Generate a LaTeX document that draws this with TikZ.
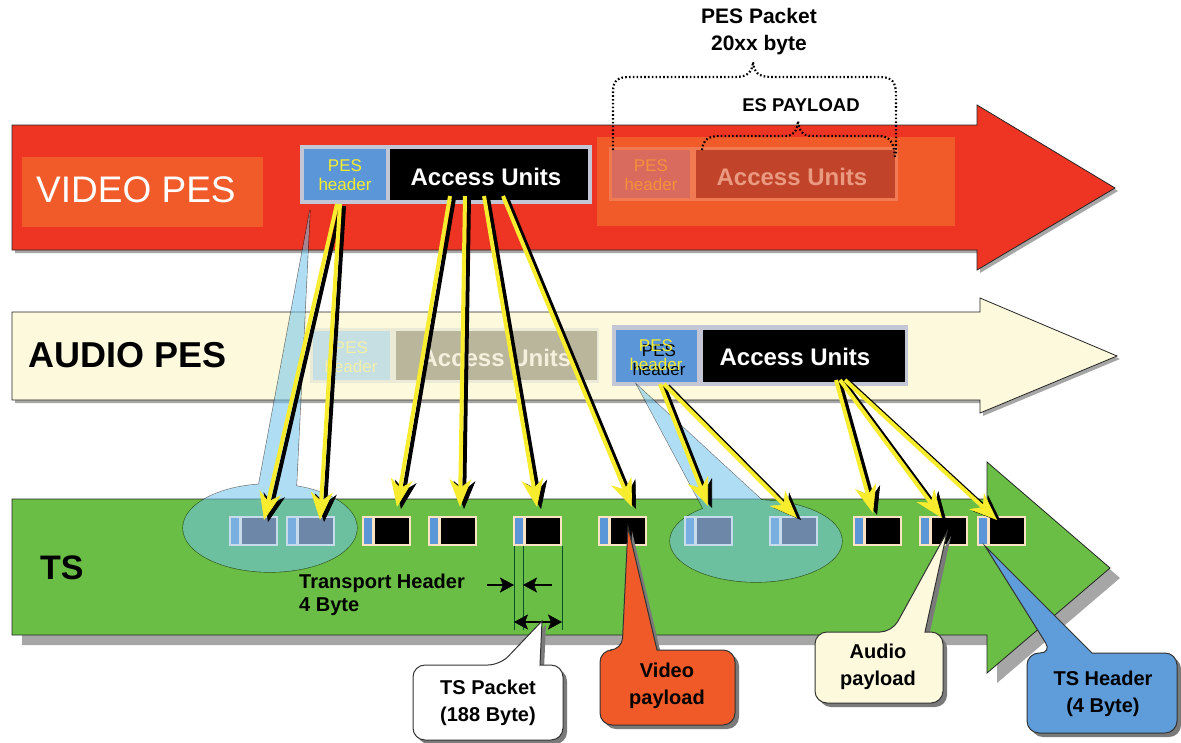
\documentclass[tikz,border=0pt]{standalone}
\usepackage{fontspec}
\setmainfont{Liberation Sans}
\usetikzlibrary{arrows.meta}
\definecolor{vred}{HTML}{EE3524}
\definecolor{vorange}{HTML}{F15A29}
\definecolor{acream}{HTML}{FCF9DC}
\definecolor{tsgreen}{HTML}{6ABD45}
\definecolor{hblue}{HTML}{5B97D8}
\definecolor{yel}{HTML}{F7EC2E}
\definecolor{lgray}{HTML}{C3C6D4}
\definecolor{lblue}{HTML}{6EC3EB}
\definecolor{shade}{HTML}{A6A6A6}
\definecolor{cshade}{HTML}{7A7A7A}
\definecolor{dgreen}{HTML}{0B4F2A}
\definecolor{pcream}{HTML}{FBE3C4}
\definecolor{fborder}{HTML}{C6DCEB}
\definecolor{fstrip}{HTML}{78AEE0}
\definecolor{fbody}{HTML}{6C87A8}
\definecolor{vidpay}{HTML}{F05A28}
\definecolor{tshead}{HTML}{5E9DDA}
\definecolor{fvborder}{HTML}{F27A52}
\definecolor{fvhead}{HTML}{D96A5E}
\definecolor{fvau}{HTML}{C1432A}
\definecolor{fvheadtxt}{HTML}{F5913A}
\definecolor{fvautxt}{HTML}{E99A80}
\definecolor{faborder}{HTML}{EAEAD6}
\definecolor{fahead}{HTML}{C5DFE3}
\definecolor{faau}{HTML}{B9B69C}
\definecolor{faheadtxt}{HTML}{F3F0A8}
\definecolor{faautxt}{HTML}{F5F0DC}
\newcommand\tspacket[2]{%
  \fill[pcream] (#2,516) rectangle ++(49,30);
  \fill[hblue] (#2+2,518) rectangle ++(8,26);
  \fill[black] (#2+13,518) rectangle ++(34,26);}
\newcommand\tsfaded[2]{%
  \fill[fborder] (#2,516) rectangle ++(49,30);
  \fill[fstrip] (#2+2,518) rectangle ++(8,26);
  \fill[fbody] (#2+13,518) rectangle ++(34,26);}
\newcommand\fatarrow[2]{%
  \draw[karrow,transform canvas={xshift=4pt,yshift=-2pt}] (#1) -- (#2);
  \draw[yarrow] (#1) -- (#2);}
\begin{document}
\begin{tikzpicture}[x=1pt,y=-1pt,
  bigarrow/.style={draw=black!85, line width=0.8pt,
    preaction={fill=shade, transform canvas={xshift=3pt,yshift=-3pt}}},
  tsarrow/.style={draw=black!85, line width=0.8pt,
    preaction={fill=shade, transform canvas={xshift=10pt,yshift=-10pt}}},
  callout/.style={draw=black!80, line width=1pt,
    preaction={fill=cshade, transform canvas={xshift=4pt,yshift=-4pt}}},
  txt/.style={inner sep=0pt, align=center},
  brace/.style={draw=black, line width=2.2pt, dash pattern=on 1.6pt off 2.2pt},
  yarrow/.style={draw=yel, line width=4pt,
    -{Stealth[length=28pt,width=22pt,inset=9pt,line width=0.6pt]}},
  karrow/.style={yarrow, draw=black},
  dimline/.style={draw=dgreen, line width=0.9pt},
  dimarrow/.style={draw=black, line width=2.5pt,
    -{Stealth[length=14pt,width=15pt,inset=3pt,line width=0.5pt]}},
  dimdouble/.style={draw=black, line width=2.5pt,
    {Stealth[length=14pt,width=15pt,inset=3pt,line width=0.5pt]}-{Stealth[length=14pt,width=15pt,inset=3pt,line width=0.5pt]}},
  ]
\useasboundingbox (0,0) rectangle (1181,742);
\fill[white] (0,0) rectangle (1181,742);

% ---------- big arrows ----------
\path[bigarrow, fill=vred] (12,125) -- (977,125) -- (977,105) -- (1115,188) -- (977,270) -- (977,250) -- (12,250) -- cycle;
\path[bigarrow, fill=acream] (12,312) -- (980,312) -- (980,298) -- (1117,356) -- (980,413) -- (980,400) -- (12,400) -- cycle;
\path[tsarrow, fill=tsgreen] (12,499) -- (987,499) -- (987,462) -- (1110,568) -- (987,673) -- (987,635) -- (12,635) -- cycle;

% ---------- VIDEO PES ----------
\fill[vorange] (22,157) rectangle (263,227);
\node[txt, text=white, font=\fontsize{37}{42}\selectfont, anchor=west] (vlabel) at (36,190) {VIDEO PES};

\fill[lgray] (300,145) rectangle (592,204);
\fill[hblue] (304,149) rectangle (386,200);
\fill[black] (390,149) rectangle (588,200);
\node[txt, text=yel, font=\fontsize{17}{19}\selectfont] (vhead) at (345,175) {PES\\header};
\node[txt, text=white, font=\bfseries\fontsize{24}{27}\selectfont] (vau) at (486,177) {Access Units};

% faded second video PES
\fill[vorange] (597,137) rectangle (955,226);
\fill[fvborder] (609,147) rectangle (898,201);
\fill[fvhead] (612,150) rectangle (690,198);
\fill[fvau] (696,150) rectangle (895,198);
\node[txt, text=fvheadtxt, font=\fontsize{17}{19}\selectfont] (vhead2) at (651,175) {PES\\header};
\node[txt, text=fvautxt, font=\bfseries\fontsize{24}{27}\selectfont] (vau2) at (792,177) {Access Units};

% braces
\draw[brace] (613,150) -- (613,92) .. controls (613,80) and (618,77) .. (630,77) -- (735,77) .. controls (748,77) and (752,72) .. (753,62) .. controls (754,72) and (758,77) .. (771,77) -- (880,77) .. controls (892,77) and (896,82) .. (896,95) -- (896,155);
\draw[brace] (702,150) .. controls (703,140) and (708,136) .. (720,136) -- (785,136) .. controls (795,136) and (797,130) .. (798,121) .. controls (799,130) and (802,136) .. (812,136) -- (878,136) .. controls (890,136) and (894,142) .. (895,158);
\node[txt, font=\bfseries\fontsize{21}{27}\selectfont] (pespkt) at (759,32) {PES Packet\\20xx byte};
\node[txt, font=\bfseries\fontsize{18.5}{20}\selectfont] (espay) at (801,105) {ES PAYLOAD};

% ---------- AUDIO PES ----------
\node[txt, font=\bfseries\fontsize{36}{40}\selectfont, anchor=west] (alabel) at (28,355) {AUDIO PES};
\fill[faborder] (310,328) rectangle (599,383);
\fill[fahead] (313,331) rectangle (390,380);
\fill[faau] (396,331) rectangle (597,380);
\node[txt, text=faheadtxt, font=\fontsize{17}{19}\selectfont] (ahead1) at (351,357) {PES\\header};
\node[txt, text=faautxt, font=\bfseries\fontsize{24}{27}\selectfont] (aau1) at (496,358) {Access Units};

\fill[lgray] (612,325) rectangle (908,386);
\fill[hblue] (616,330) rectangle (697,382);
\fill[black] (703,330) rectangle (905,382);
\node[txt, text=black, font=\fontsize{17}{19}\selectfont] (ahead2s) at (659,360) {PES\\header};
\node[txt, text=yel, font=\fontsize{17}{19}\selectfont] (ahead2) at (656,355) {PES\\header};
\node[txt, text=white, font=\bfseries\fontsize{24}{27}\selectfont] (aau2) at (795,357) {Access Units};

% ---------- TS ----------
\node[txt, font=\bfseries\fontsize{34}{40}\selectfont, anchor=west] (tslabel) at (40,568) {TS};

\tspacket{p3}{362}
\tspacket{p4}{428}
\tspacket{p5}{513}
\tspacket{p6}{598}
\tspacket{p9}{853}
\tspacket{p10}{919}
\tspacket{p11}{977}

% ellipses with callout wedges
\begin{scope}[transparency group, opacity=0.55]
  \filldraw[fill=lblue, draw=black, line width=1.2pt] (270,528) ellipse [x radius=87pt, y radius=44pt];
  \filldraw[fill=lblue, draw=black, line width=1.2pt] (310,210) -- (257,494) -- (296,494) -- cycle;
  \fill[lblue] (270,528) ellipse [x radius=87pt, y radius=44pt];
  \fill[lblue] (310,210) -- (257,494) -- (296,494) -- cycle;
\end{scope}
\begin{scope}[transparency group, opacity=0.55]
  \filldraw[fill=lblue, draw=black, line width=1.2pt] (756,541) ellipse [x radius=86pt, y radius=41pt];
  \filldraw[fill=lblue, draw=black, line width=1.2pt] (637,385) -- (705,512) -- (765,503) -- cycle;
  \fill[lblue] (756,541) ellipse [x radius=86pt, y radius=41pt];
  \fill[lblue] (637,385) -- (705,512) -- (765,503) -- cycle;
\end{scope}

\tsfaded{p1}{229}
\tsfaded{p2}{286}
\tsfaded{p7}{684}
\tsfaded{p8}{769}

% dimension lines
\coordinate (da) at (514,546);
\coordinate (db) at (523,546);
\coordinate (dc) at (562,546);
\coordinate (da2) at (514,630);
\coordinate (db2) at (523,630);
\coordinate (dc2) at (562,630);
\draw[dimline] (da) -- (da2);
\draw[dimline] (db) -- (db2);
\draw[dimline] (dc) -- (dc2);
\coordinate (hl0) at (487,585);
\coordinate (hl1) at (514,585);
\coordinate (hr0) at (552,585);
\coordinate (hr1) at (523,585);
\coordinate (w0) at (514,622);
\coordinate (w1) at (562,622);
\draw[dimarrow] (hl0) -- (hl1);
\draw[dimarrow] (hr0) -- (hr1);
\draw[dimdouble] (w0) -- (w1);
\node[txt, font=\bfseries\fontsize{20}{23}\selectfont, anchor=west, align=left] (thdr) at (299,595) {Transport Header\\4 Byte};

% ---------- yellow arrows ----------
\coordinate (s1) at (337,204);  \coordinate (t1) at (264,520);
\coordinate (s2) at (340,204);  \coordinate (t2) at (320,520);
\coordinate (s3) at (450,196);  \coordinate (t3) at (397,507);
\coordinate (s4) at (465,196);  \coordinate (t4) at (460,507);
\coordinate (s5) at (484,196);  \coordinate (t5) at (537,507);
\coordinate (s6) at (503,196);  \coordinate (t6) at (632,507);
\coordinate (s7) at (660,384);  \coordinate (t7) at (708,506);
\coordinate (s8) at (664,384);  \coordinate (t8) at (797,518);
\coordinate (s9) at (836,380);  \coordinate (t9) at (873,513);
\coordinate (s10) at (840,380); \coordinate (t10) at (942,518);
\coordinate (s11) at (845,380); \coordinate (t11) at (997,520);
\fatarrow{s1}{t1}
\fatarrow{s2}{t2}
\fatarrow{s3}{t3}
\fatarrow{s4}{t4}
\fatarrow{s5}{t5}
\fatarrow{s6}{t6}
\fatarrow{s7}{t7}
\fatarrow{s8}{t8}
\fatarrow{s9}{t9}
\fatarrow{s10}{t10}
\fatarrow{s11}{t11}

% ---------- callouts ----------
\path[callout, fill=white] (413,700) [rounded corners=12pt] |- (500,665) [sharp corners] -- (542,621) -- (540,665) [rounded corners=12pt] -| (563,740) -| (413,700) [sharp corners] -- cycle;
\node[txt, font=\bfseries\fontsize{20}{27}\selectfont] (tspkt) at (488,703) {TS Packet\\(188 Byte)};

\path[callout, fill=vidpay] (600,690) [rounded corners=12pt] |- (622,650) [sharp corners] -- (628,527) -- (657,650) [rounded corners=12pt] -| (735,725) -| (600,690) [sharp corners] -- cycle;
\node[txt, font=\bfseries\fontsize{20}{27}\selectfont] (vpay) at (667,686) {Video\\payload};

\path[callout, fill=acream] (815,670) [rounded corners=12pt] |- (892,632) [sharp corners] -- (947,532) -- (925,632) [rounded corners=12pt] -| (943,703) -| (815,670) [sharp corners] -- cycle;
\node[txt, font=\bfseries\fontsize{20}{27}\selectfont] (apay) at (878,667) {Audio\\payload};

\path[callout, fill=tshead] (1027,695) [rounded corners=12pt] |- (1052,653) [sharp corners] -- (985,546) -- (1092,653) [rounded corners=12pt] -| (1177,733) -| (1027,695) [sharp corners] -- cycle;
\node[txt, font=\bfseries\fontsize{20}{27}\selectfont] (tsh) at (1103,694) {TS Header\\(4 Byte)};
\end{tikzpicture}
\end{document}
